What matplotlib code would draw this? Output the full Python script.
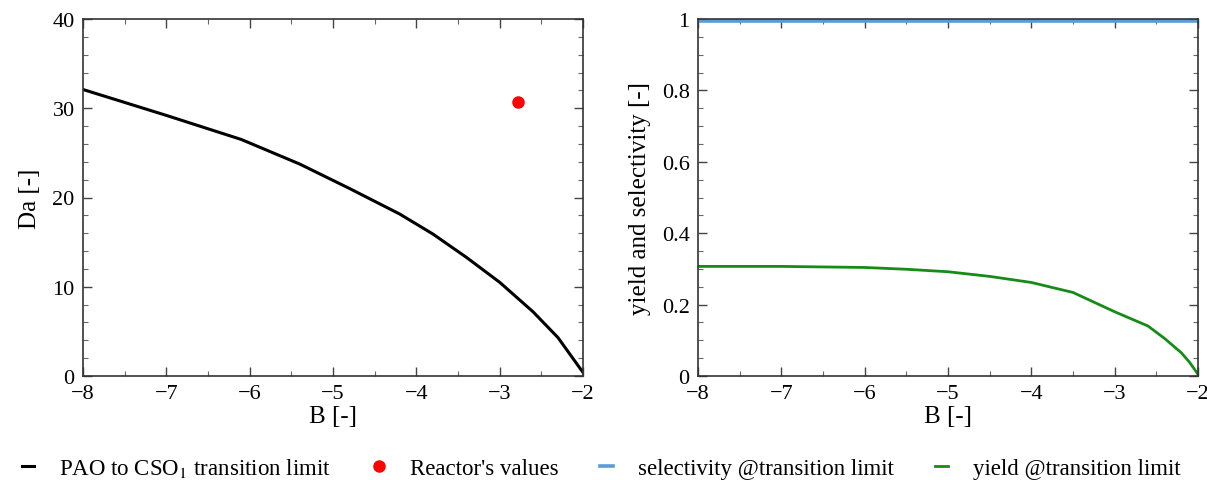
import matplotlib.pyplot as plt
from matplotlib.ticker import MultipleLocator, FuncFormatter

plt.rcParams['font.family'] = ['Liberation Serif', 'DejaVu Serif']
plt.rcParams['mathtext.fontset'] = 'stix'

# transition limit (left panel)
B = [-8.0, -7.0, -6.1, -5.4, -4.8, -4.2, -3.8, -3.4, -3.0, -2.6, -2.3, -2.0]
Da = [32.1, 29.2, 26.5, 23.75, 21.0, 18.15, 15.9, 13.3, 10.5, 7.2, 4.3, 0.4]

# reactor operating point
B_reactor = [-2.78]
Da_reactor = [30.7]

# yield / selectivity at the transition limit (right panel)
B2 = [-8.0, -7.0, -6.0, -5.5, -5.0, -4.5, -4.0, -3.5, -3.0, -2.6, -2.4, -2.2, -2.1, -2.0]
selectivity = [0.993] * len(B2)
yld = [0.307, 0.307, 0.304, 0.299, 0.292, 0.279, 0.262, 0.234, 0.180, 0.140, 0.105, 0.065, 0.038, 0.005]

fig = plt.figure(figsize=(12.07, 4.81), dpi=100)
ax1 = fig.add_axes([83 / 1207, 104 / 481, 500 / 1207, 357 / 481])
ax2 = fig.add_axes([698 / 1207, 104 / 481, 500 / 1207, 357 / 481])

ax1.plot(B, Da, color='black', lw=2.2, label='PAO to CSO$_1$ transition limit')
ax1.plot(B_reactor, Da_reactor, 'o', color='red', ms=8, label="Reactor's values")
ax2.plot(B2, selectivity, color='#5a9bd5', lw=2.6, label='selectivity @transition limit')
ax2.plot(B2, yld, color='#168c16', lw=2.0, label='yield @transition limit')

ax1.set_xlim(-8, -2)
ax1.set_ylim(0, 40)
ax1.yaxis.set_major_locator(MultipleLocator(10))
ax1.yaxis.set_minor_locator(MultipleLocator(2))
ax1.set_ylabel('Da [-]', fontsize=18, labelpad=8)

ax2.set_xlim(-8, -2)
ax2.set_ylim(0, 1)
ax2.yaxis.set_major_locator(MultipleLocator(0.2))
ax2.yaxis.set_minor_locator(MultipleLocator(0.05))
ax2.yaxis.set_major_formatter(FuncFormatter(lambda v, p: f'{v:g}'))
ax2.set_ylabel('yield and selectivity [-]', fontsize=18, labelpad=8)

for ax in (ax1, ax2):
    ax.xaxis.set_major_locator(MultipleLocator(1))
    ax.xaxis.set_minor_locator(MultipleLocator(0.5))
    ax.set_xlabel('B [-]', fontsize=18, labelpad=1)
    ax.tick_params(which='both', direction='in', top=True, right=True, labelsize=16, pad=6)
    ax.tick_params(which='major', length=6.5, width=1, color='#444444')
    ax.tick_params(which='minor', length=3.5, width=0.8, color='#666666')
    for s in ax.spines.values():
        s.set_color('#333333')
        s.set_linewidth(1.2)

h1, l1 = ax1.get_legend_handles_labels()
h2, l2 = ax2.get_legend_handles_labels()
fig.legend(h1 + h2, l1 + l2, loc='lower center', ncol=4, frameon=False,
           fontsize=16.5, handlelength=0.55, columnspacing=1.8, handletextpad=1.1,
           bbox_to_anchor=(0.498, -0.04))

fig.savefig('out.png', dpi=100)
